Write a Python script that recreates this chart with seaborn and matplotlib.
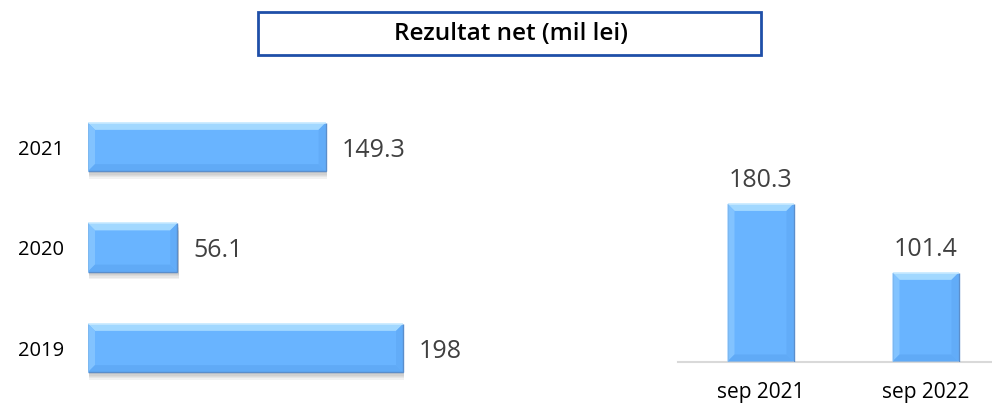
import matplotlib
matplotlib.use("Agg")
import matplotlib.pyplot as plt
import matplotlib.patheffects as pe
from matplotlib.patches import Polygon, Rectangle
from matplotlib.transforms import IdentityTransform
import seaborn as sns
import pandas as pd

# ---- data ----
years = ["2021", "2020", "2019"]
year_values = [149.3, 56.1, 198]
year_labels = ["149.3", "56.1", "198"]

periods = ["sep 2021", "sep 2022"]
period_values = [180.3, 101.4]
period_labels = ["180.3", "101.4"]

title = "Rezultat net (mil lei)"

sns.set_theme(style="white")
plt.rcParams["font.family"] = ["Open Sans", "DejaVu Sans"]

W, H = 992, 403
fig = plt.figure(figsize=(W / 100, H / 100), dpi=100)

FILL = "#69B4FF"
EDGE = "#5A8ECC"
VAL_COLOR = "#404040"


def px(x0, y_top, w, h):
    return [x0 / W, (H - y_top - h) / H, w / W, h / H]


def bevel(ax, patch, d=7):
    x, y, w, h = patch.get_x(), patch.get_y(), patch.get_width(), patch.get_height()
    (ax_, ay_), (bx_, by_) = ax.transData.transform([(x, y), (x + w, y + h)])
    x0, x1 = sorted([ax_, bx_])
    y0, y1 = sorted([ay_, by_])
    polys = [
        ([(x0, y1), (x1, y1), (x1 - d, y1 - d), (x0 + d, y1 - d)], "#A2D8FF"),
        ([(x0, y0), (x0, y1), (x0 + d, y1 - d), (x0 + d, y0 + d)], "#82C3FF"),
        ([(x0, y0), (x1, y0), (x1 - d, y0 + d), (x0 + d, y0 + d)], "#60AAF6"),
        ([(x1, y0), (x1, y1), (x1 - d, y1 - d), (x1 - d, y0 + d)], "#62ACF8"),
    ]
    for pts, c in polys:
        poly = Polygon(pts, closed=True, facecolor=c, edgecolor="none",
                       transform=IdentityTransform(), zorder=3)
        ax.add_patch(poly)
    ax.add_patch(Polygon([(x0, y1), (x1, y1)], closed=False, fill=False,
                         edgecolor="#C8EAFF", lw=1.2, transform=IdentityTransform(), zorder=4))
    ax.add_patch(Polygon([(x0, y0), (x1, y0), (x1, y1)], closed=False, fill=False,
                         edgecolor=EDGE, lw=1.0, transform=IdentityTransform(), zorder=4))
    ax.add_patch(Polygon([(x0, y0), (x0, y1)], closed=False, fill=False,
                         edgecolor="#7DB8F0", lw=0.8, transform=IdentityTransform(), zorder=4))


shadow = [pe.SimplePatchShadow(offset=(1, -o), shadow_rgbFace="#707070", alpha=0.09)
          for o in (1.5, 2.5, 3.5, 4.5, 5.5)] + [pe.Normal()]

# ---- left: horizontal bars ----
axL = fig.add_axes(px(88, 96.75, 366, 301.5))
dfL = pd.DataFrame({"year": years, "value": year_values})
sns.barplot(data=dfL, x="value", y="year", order=years, orient="h",
            color=FILL, width=0.48, saturation=1, ax=axL, zorder=2)
axL.set_xlim(0, 230)
axL.set_ylim(2.5, -0.5)
for s in axL.spines.values():
    s.set_visible(False)
axL.set_xticks([])
axL.set_xlabel("")
axL.set_ylabel("")
axL.tick_params(axis="y", length=0, pad=17, labelsize=14.5, labelcolor="black")
for p, lab in zip(axL.patches, year_labels):
    p.set_edgecolor("none")
    p.set_path_effects(shadow)
    bevel(axL, p)
    axL.annotate(lab, (p.get_x() + p.get_width(), p.get_y() + p.get_height() / 2),
                 xytext=(11.5, 0), textcoords="offset points", ha="left",
                 va="center_baseline", fontsize=18, color=VAL_COLOR)

# ---- right: vertical bars ----
axR = fig.add_axes(px(678, 361.5 - 174.8, 330, 174.8))
dfR = pd.DataFrame({"period": periods, "value": period_values})
sns.barplot(data=dfR, x="period", y="value", order=periods,
            color=FILL, width=0.4, saturation=1, ax=axR, zorder=2)
axR.set_xlim(-0.5, 1.5)
axR.set_ylim(0, 200)
for k in ["top", "right", "left"]:
    axR.spines[k].set_visible(False)
axR.spines["bottom"].set_color("#D9D9D9")
axR.spines["bottom"].set_linewidth(1.5)
axR.set_yticks([])
axR.set_xlabel("")
axR.set_ylabel("")
axR.set_xticks([-0.5, 0.5, 1.5], minor=True)
axR.tick_params(axis="x", which="minor", length=6, width=1.5, color="#D9D9D9", direction="out")
axR.tick_params(axis="x", which="major", length=0, pad=15, labelsize=15, labelcolor="black")
for p, lab in zip(axR.patches, period_labels):
    p.set_edgecolor("none")
    p.set_path_effects(shadow)
    bevel(axR, p)
    axR.annotate(lab, (p.get_x() + p.get_width() / 2, p.get_height()),
                 xytext=(0, 8), textcoords="offset points", ha="center", va="bottom",
                 fontsize=18, color=VAL_COLOR)

# ---- title box ----
box = Rectangle((258 / W, 1 - 55 / H), (761 - 258) / W, (55 - 12) / H,
                transform=fig.transFigure, facecolor="white", edgecolor="#1F4FA8", lw=2)
fig.patches.append(box)
fig.text(510.5 / W, 1 - 33.5 / H, title, ha="center", va="center",
         fontsize=17.5, fontweight="semibold", color="black")

fig.savefig("out.png", dpi=100)
